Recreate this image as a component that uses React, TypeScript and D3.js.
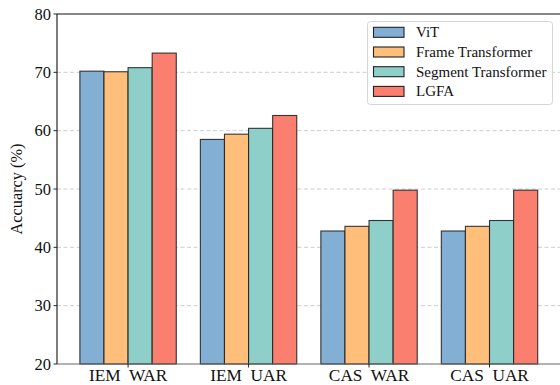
import React from "react";
import * as d3 from "d3";

const categories = ["IEM  WAR", "IEM  UAR", "CAS  WAR", "CAS  UAR"];
const seriesNames = ["ViT", "Frame Transformer", "Segment Transformer", "LGFA"];
const vitValues = [70.2, 58.5, 42.8, 42.8];
const frameValues = [70.1, 59.4, 43.6, 43.6];
const segmentValues = [70.8, 60.4, 44.6, 44.6];
const lgfaValues = [73.3, 62.6, 49.8, 49.8];
const seriesColors = ["#82AFD3", "#FFBE7A", "#8ECFC9", "#FA7F6F"];
const yTicks = [20, 30, 40, 50, 60, 70, 80];
const gridTicks = [30, 40, 50, 60, 70];

const W = 560;
const H = 385;
const left = 57;
const top = 14;
const bottom = 364;

export default function App() {
  const series = [vitValues, frameValues, segmentValues, lgfaValues];
  const barW = 0.2;
  const x = d3.scaleLinear().domain([-0.59, 3.59]).range([left, 560.6]);
  const y = d3.scaleLinear().domain([20, 80]).range([bottom, top]);
  const font = "'Liberation Serif', 'Times New Roman', serif";
  const bw = x(barW) - x(0);

  return (
    <svg
      width={W}
      height={H}
      style={{ position: "absolute", left: 0, top: 0, background: "#fff" }}
      fontFamily={font}
    >
      <rect x={0} y={0} width={W} height={H} fill="#fff" />
      {gridTicks.map((t) => (
        <line
          key={"g" + t}
          x1={left}
          x2={W}
          y1={y(t)}
          y2={y(t)}
          stroke="#c8c8c8"
          strokeWidth={0.9}
          strokeDasharray="4,2.5"
        />
      ))}
      {series.map((vals, si) =>
        vals.map((v, ci) => {
          const x0 = x(ci + (si - 2) * barW);
          return (
            <rect
              key={`b${si}-${ci}`}
              x={x0}
              y={y(v)}
              width={bw}
              height={y(20) - y(v)}
              fill={seriesColors[si]}
              stroke="#222"
              strokeOpacity={0.9}
              strokeWidth={1.1}
            />
          );
        })
      )}
      {/* spines */}
      <line x1={left} x2={left} y1={top} y2={bottom} stroke="#111" strokeWidth={1.1} />
      <line x1={left} x2={W} y1={top} y2={top} stroke="#111" strokeWidth={1.1} />
      <line x1={left} x2={W} y1={bottom} y2={bottom} stroke="#666" strokeWidth={1.1} />
      {/* y ticks */}
      {yTicks.map((t) => (
        <g key={"yt" + t}>
          <line x1={left - 3.5} x2={left} y1={y(t)} y2={y(t)} stroke="#111" strokeWidth={0.9} />
          <text
            x={left - 6}
            y={y(t)}
            dy="0.35em"
            textAnchor="end"
            fontSize={16.5}
            fill="#111"
          >
            {t}
          </text>
        </g>
      ))}
      {/* x ticks */}
      {categories.map((c, i) => (
        <g key={"xt" + i}>
          <line x1={x(i)} x2={x(i)} y1={bottom} y2={bottom + 3.5} stroke="#111" strokeWidth={0.9} />
          <text
            x={x(i)}
            y={bottom + 17.2}
            textAnchor="middle"
            fontSize={17.3}
            fill="#111"
            style={{ whiteSpace: "pre" }}
          >
            {c}
          </text>
        </g>
      ))}
      <text
        transform={`translate(22, ${(top + bottom) / 2}) rotate(-90)`}
        textAnchor="middle"
        fontSize={16.3}
        fill="#111"
      >
        Accuarcy (%)
      </text>
      {/* legend */}
      <rect
        x={367.5}
        y={21.5}
        width={185}
        height={83}
        rx={3}
        fill="#fff"
        fillOpacity={0.85}
        stroke="#d5d5d5"
        strokeWidth={1}
      />
      {seriesNames.map((n, i) => (
        <g key={"l" + i} transform={`translate(0, ${32.3 + i * 19.7})`}>
          <rect
            x={373.5}
            y={-5}
            width={30.5}
            height={10}
            fill={seriesColors[i]}
            stroke="#222"
            strokeWidth={1.1}
          />
          <text x={416} y={0} dy="0.33em" fontSize={15} fill="#111">
            {n}
          </text>
        </g>
      ))}
    </svg>
  );
}
